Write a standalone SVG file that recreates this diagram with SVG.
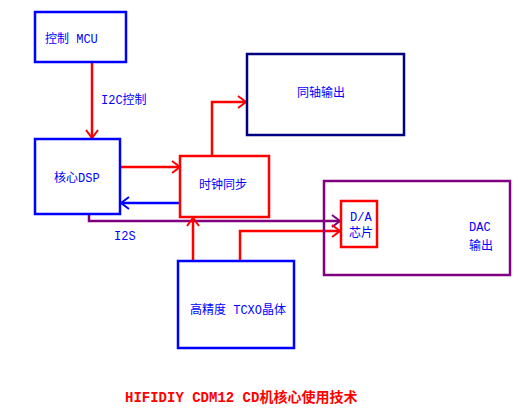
<svg xmlns="http://www.w3.org/2000/svg" width="519" height="411" viewBox="0 0 519 411">
<defs>
<style>
.box{fill:none;stroke-width:2.5}
.b{stroke:#0000ff}
.n{stroke:#000080}
.r{stroke:#ff0000}
.p{stroke:#800080}
.ln{fill:none;stroke-width:2.5}
text{font-family:"Liberation Mono","Noto Sans CJK SC",monospace;font-size:12px;fill:#0000ff}
.t{font-size:14px;font-weight:bold;fill:#ff0000}
</style>
<marker id="ar" markerUnits="userSpaceOnUse" markerWidth="14" markerHeight="14" refX="11" refY="7" orient="auto" viewBox="0 0 14 14">
<polyline points="3,1 11,7 3,13" fill="none" stroke="#ff0000" stroke-width="2"/>
</marker>
<marker id="ab" markerUnits="userSpaceOnUse" markerWidth="14" markerHeight="14" refX="11" refY="7" orient="auto" viewBox="0 0 14 14">
<polyline points="3,1 11,7 3,13" fill="none" stroke="#0000ff" stroke-width="2"/>
</marker>
<marker id="ap" markerUnits="userSpaceOnUse" markerWidth="14" markerHeight="14" refX="11" refY="7" orient="auto" viewBox="0 0 14 14">
<polyline points="3,1 11,7 3,13" fill="none" stroke="#800080" stroke-width="2"/>
</marker>
</defs>
<rect width="519" height="411" fill="#fff"/>
<g id="connectors">
<line class="ln r" x1="92" y1="62" x2="92" y2="138" marker-end="url(#ar)"/>
<line class="ln r" x1="120" y1="167" x2="180" y2="167" marker-end="url(#ar)"/>
<line class="ln b" x1="180" y1="203" x2="121" y2="203" marker-end="url(#ab)"/>
<polyline class="ln r" points="212,156 212,102 246,102" marker-end="url(#ar)"/>
<polyline class="ln p" points="89,214 89,221 340,221" marker-end="url(#ap)"/>
<line class="ln r" x1="193" y1="261" x2="193" y2="218" marker-end="url(#ar)"/>
<polyline class="ln r" points="240,261 240,231 340,231" marker-end="url(#ar)"/>
<text x="101" y="104">I2C控制</text>
<text x="114" y="240">I2S</text>
</g>
<g id="mcu">
<rect class="box b" x="35" y="12" width="91" height="50"/>
<text x="45" y="43">控制 MCU</text>
</g>
<g id="dsp">
<rect class="box b" x="35" y="139" width="85" height="75"/>
<text x="54" y="182">核心DSP</text>
</g>
<g id="clock">
<rect class="box r" x="180" y="156" width="89" height="61"/>
<text x="199" y="189">时钟同步</text>
</g>
<g id="coax">
<rect class="box n" x="247" y="54" width="157" height="81"/>
<text x="297" y="97">同轴输出</text>
</g>
<g id="dac">
<rect class="box p" x="324" y="181" width="186" height="94"/>
<text x="469" y="231">DAC</text>
<text x="469" y="250">输出</text>
</g>
<g id="da">
<rect class="box r" x="341" y="201" width="36" height="46"/>
<text x="350" y="221">D/A</text>
<text x="349" y="237">芯片</text>
</g>
<g id="tcxo">
<rect class="box b" x="178" y="261" width="116" height="87"/>
<text x="190" y="314">高精度 TCXO晶体</text>
</g>
<text class="t" x="125" y="402">HIFIDIY CDM12 CD机核心使用技术</text>
</svg>
